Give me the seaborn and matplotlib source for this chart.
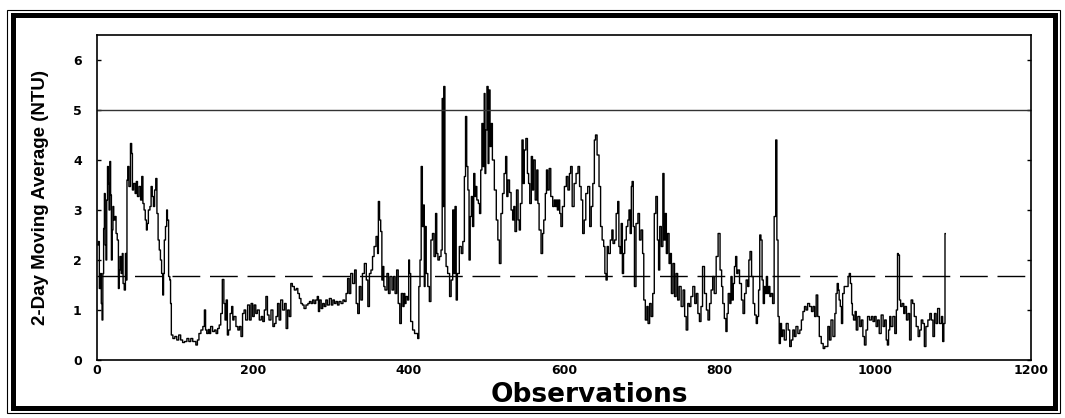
import matplotlib
matplotlib.use("Agg")
import pandas as pd
import matplotlib.pyplot as plt
import seaborn as sns
from matplotlib.patches import Rectangle

obs = [
    1, 2, 4, 5, 6, 7, 8, 9, 10, 11, 12, 13, 14, 15, 16, 17, 18, 19, 20, 21, 22, 24, 25, 27, 28, 29, 30,
    32, 33, 34, 36, 37, 38, 39, 40, 42, 44, 45, 46, 48, 50, 51, 53, 55, 57, 58, 60, 61, 63, 64, 65, 67,
    69, 70, 72, 73, 75, 76, 78, 79, 81, 82, 84, 85, 86, 87, 89, 90, 91, 93, 94, 95, 96, 99, 101, 104,
    106, 109, 111, 114, 117, 119, 122, 124,
    126, 128, 130, 132, 135, 137, 139, 140, 142, 144, 145, 147, 150, 152, 154, 156, 158, 160, 162, 164,
    165, 167, 168, 170, 172, 174, 175, 177, 180, 182, 184, 186, 188, 190, 192, 195, 197, 199, 201, 203,
    205, 207, 210, 212, 214, 216, 218, 220, 222, 225, 227, 229, 231, 233, 235, 237, 240, 242, 244, 246,
    248, 250, 252, 255, 257, 259,
    261, 263, 265, 267, 270, 272, 274, 276, 278, 280, 282, 284, 285, 287, 289, 291, 293, 295, 297, 300,
    302, 304, 306, 308, 310, 312, 315, 317, 319, 321, 323, 325, 327, 330, 332, 334, 336, 338, 340, 342,
    345, 347, 349, 351, 353, 355, 357, 360, 361, 362, 364, 365, 367, 368, 369, 371, 374, 375, 378, 380,
    382, 384, 386, 388, 390, 392, 394,
    395, 396, 398, 400, 401, 402, 404, 407, 409, 411, 413, 414, 416, 417, 419, 420, 421, 422, 424, 426,
    428, 430, 432, 434, 436, 437, 439, 441, 443, 444, 445, 446, 448, 449, 452, 454, 456, 458, 459, 461,
    462, 464, 467, 469, 471, 473, 474, 476, 477, 479, 480, 482, 483, 485, 486, 487, 489, 491, 492, 494,
    495, 497, 498, 499, 500, 502, 503, 504, 506, 507, 509, 512, 514, 516, 518, 520, 522, 524, 526, 527,
    529,
    531, 533, 535, 536, 538, 540, 542, 543, 545, 547, 548, 550, 552, 554, 555, 557, 559, 560, 562, 564,
    566, 567, 569, 572, 573, 575, 577, 578, 580, 582, 584, 587, 588, 590, 591, 592, 594, 595, 597, 599,
    602, 604, 606, 608, 609, 612, 614, 617, 619, 621, 623, 625, 627, 629, 632, 634, 636, 638, 640, 641,
    644, 646, 648, 650, 652, 653, 655, 656, 658, 661, 662, 664,
    666, 668, 670, 671, 673, 674, 676, 677, 679, 681, 683, 684, 686, 687, 688, 690, 691, 694, 696, 698,
    700, 702, 703, 706, 707, 709, 711, 713, 715, 717, 719, 721, 722, 724, 726, 728, 729, 731, 732, 734,
    736, 737, 739, 741, 743, 745, 747, 749, 752, 754, 756, 758, 760, 762, 764, 767, 769, 771, 773, 775,
    777, 779, 782, 784, 786, 788, 790, 792, 794, 797, 799,
    802, 803, 805, 807, 809, 810, 812, 814, 815, 817, 818, 820, 821, 823, 824, 827, 829, 831, 833, 835,
    837, 838, 840, 842, 844, 846, 848, 849, 851, 852, 854, 855, 857, 858, 859, 861, 862, 864, 865, 867,
    869, 871, 873, 874, 876, 877, 879, 880, 882, 884, 887, 889, 891, 893, 895, 897, 899, 902, 904, 906,
    908, 910, 912, 914, 917, 919, 921, 923, 925, 927, 929, 932, 934,
    936, 938, 940, 942, 944, 947, 949, 950, 952, 953, 954, 956, 957, 959, 961, 964, 966, 967, 969, 970,
    971, 973, 975, 976, 979, 981, 983, 985, 987, 989, 991, 994, 996, 998, 1000, 1002, 1004, 1006, 1009,
    1011, 1013, 1015, 1016, 1018, 1019, 1021, 1024, 1026, 1028, 1029, 1030, 1032, 1033, 1036, 1037,
    1039, 1041, 1043, 1045, 1047, 1049, 1051, 1054, 1056, 1058, 1060, 1062, 1064, 1066, 1069, 1071,
    1073, 1075, 1077, 1079, 1081, 1084, 1086, 1087, 1089, 1090,
]
ntu = [
    2.30, 2.37, 1.43, 1.73, 1.13, 0.80, 1.73, 2.63, 3.33, 2.30, 2.00, 3.20, 3.87, 3.53, 3.00, 3.97, 3.30,
    2.00, 2.60, 3.07, 2.80, 2.87, 2.53, 2.40, 1.43, 1.80, 2.07, 1.73, 2.13, 1.53, 1.40, 2.13, 1.60, 3.60,
    3.87, 3.47, 4.33, 4.13, 3.40, 3.53, 3.33, 3.57, 3.27, 3.47, 3.20, 3.67, 3.13, 3.00, 2.80, 2.60, 2.73,
    3.00, 3.07, 3.47, 3.27, 3.07, 3.40, 3.63, 2.93, 2.40, 2.20, 2.00, 1.73, 1.30, 1.73, 2.40, 2.67, 3.00,
    2.80, 1.67, 1.60, 1.13, 0.50, 0.43, 0.47, 0.40, 0.50, 0.40, 0.35, 0.37, 0.43, 0.37, 0.43, 0.37,
    0.37, 0.30, 0.40, 0.53, 0.60, 0.67, 1.00, 0.60, 0.53, 0.61, 0.53, 0.67, 0.57, 0.60, 0.53, 0.63, 0.70,
    0.93, 1.61, 1.13, 0.80, 1.20, 0.50, 0.60, 0.93, 1.07, 0.80, 0.87, 0.67, 0.60, 0.67, 0.47, 0.93, 1.00,
    0.80, 1.10, 0.80, 1.13, 0.87, 1.10, 0.93, 1.00, 0.80, 0.87, 0.77, 1.00, 1.27, 0.90, 0.80, 1.00, 0.67,
    0.73, 0.87, 1.13, 0.80, 1.20, 1.00, 1.13, 0.63, 1.00, 0.87, 1.53, 1.47, 1.40, 1.43, 1.33,
    1.23, 1.13, 1.10, 1.03, 1.10, 1.13, 1.17, 1.13, 1.20, 1.13, 1.20, 1.27, 0.97, 1.20, 1.03, 1.13, 1.07,
    1.20, 1.10, 1.23, 1.10, 1.20, 1.13, 1.17, 1.10, 1.17, 1.13, 1.20, 1.17, 1.33, 1.63, 1.33, 1.73, 1.53,
    1.80, 1.13, 0.93, 1.47, 1.20, 1.73, 1.93, 1.60, 1.07, 1.73, 1.80, 2.07, 2.27, 2.47, 2.13, 3.17, 2.80,
    2.57, 1.60, 1.87, 1.47, 1.40, 1.73, 1.33, 1.67, 1.40, 1.67, 1.33, 1.80, 1.13, 0.73, 1.33, 1.07,
    1.33, 1.13, 1.27, 1.20, 2.00, 1.73, 0.77, 0.60, 0.53, 0.53, 0.43, 1.47, 2.00, 3.87, 2.67, 3.10, 1.47,
    2.67, 1.73, 1.47, 1.17, 2.40, 2.53, 2.07, 2.93, 2.13, 2.00, 2.07, 2.20, 5.23, 3.07, 5.47, 2.13, 1.87,
    1.73, 1.27, 1.60, 3.00, 1.73, 3.07, 1.20, 1.73, 2.27, 2.13, 2.37, 3.67, 4.87, 3.87, 3.40, 2.00, 2.87,
    3.27, 2.67, 3.73, 3.27, 3.47, 3.20, 3.13, 2.93, 3.80, 4.73, 3.87, 5.33, 3.73, 4.60, 5.47, 3.93, 5.40,
    4.27, 4.73, 4.00, 3.40, 2.80, 2.40, 1.93, 2.93, 3.33, 3.73, 4.07, 3.27, 3.60,
    3.35, 3.00, 2.80, 3.07, 2.57, 3.40, 2.80, 2.60, 3.13, 4.40, 3.53, 4.20, 4.43, 3.73, 3.53, 3.13, 4.07,
    3.40, 4.00, 3.20, 3.80, 3.13, 2.60, 2.13, 2.53, 2.80, 3.33, 3.80, 3.40, 3.83, 3.27, 3.07, 3.20, 3.07,
    3.20, 3.00, 3.20, 2.93, 2.67, 3.07, 3.47, 3.67, 3.40, 3.73, 3.87, 3.07, 3.53, 3.73, 3.87, 3.47, 3.20,
    2.53, 2.80, 3.33, 3.47, 2.67, 3.07, 3.53, 4.40, 4.50, 4.10, 3.47, 2.67, 2.40, 2.27, 1.73, 1.60, 2.27,
    2.13, 2.40, 2.60, 2.33,
    2.40, 2.93, 3.17, 2.27, 2.13, 2.73, 1.73, 2.13, 2.40, 2.67, 2.80, 3.00, 2.53, 3.47, 3.57, 2.67, 1.47,
    2.73, 2.93, 2.40, 2.60, 2.13, 1.20, 0.80, 1.07, 0.73, 1.13, 0.87, 1.33, 2.93, 3.27, 2.40, 1.80, 2.67,
    2.27, 3.73, 2.40, 2.93, 2.13, 2.53, 1.93, 2.13, 1.33, 1.93, 1.27, 1.73, 1.20, 1.47, 1.07, 1.40, 0.87,
    0.60, 1.13, 1.07, 1.27, 1.47, 1.13, 1.33, 0.93, 0.77, 1.07, 1.87, 1.33, 1.00, 0.80, 1.13, 1.40, 1.67,
    1.33, 2.07, 2.53,
    1.80, 1.47, 1.13, 0.83, 0.57, 0.93, 1.33, 1.13, 1.67, 1.20, 1.53, 1.87, 2.07, 1.73, 1.80, 1.53, 1.20,
    0.93, 1.33, 1.60, 1.47, 2.00, 2.17, 1.67, 1.13, 0.90, 0.73, 0.87, 1.40, 2.50, 2.40, 1.60, 1.13, 1.47,
    1.33, 1.67, 1.33, 1.47, 1.27, 1.33, 1.13, 2.87, 4.40, 2.40, 0.87, 0.33, 0.73, 0.47, 0.60, 0.40, 0.73,
    0.60, 0.27, 0.40, 0.60, 0.47, 0.67, 0.53, 0.60, 0.80, 0.97, 1.07, 1.00, 1.13, 1.07, 0.97, 1.07, 0.87,
    1.30, 0.87, 0.47, 0.33, 0.23,
    0.27, 0.27, 0.67, 0.40, 0.80, 0.47, 0.93, 1.33, 1.53, 1.40, 1.20, 1.07, 0.73, 1.33, 1.47, 1.47, 1.67,
    1.73, 1.53, 1.13, 0.90, 0.80, 0.97, 0.60, 0.87, 0.67, 0.80, 0.47, 0.30, 0.60, 0.87, 0.80, 0.87, 0.77,
    0.87, 0.67, 0.80, 0.53, 0.90, 0.67, 0.80, 0.40, 0.30, 0.60, 0.87, 0.67, 0.87, 0.53, 1.00, 2.13, 2.10,
    1.20, 1.07, 1.13, 0.93, 1.07, 0.80, 0.93, 0.40, 1.20, 1.13, 0.87, 0.67, 0.47, 0.60, 0.80, 0.73, 0.27,
    0.67, 0.80, 0.93,
    0.80, 0.47, 0.93, 0.73, 1.03, 0.73, 0.87, 0.37, 0.73, 2.53,
]

upper_limit = 5.0     # solid reference line
mean_level = 1.68     # dashed reference line
x_ticks = [0, 200, 400, 600, 800, 1000, 1200]
y_ticks = [0, 1, 2, 3, 4, 5, 6]

df = pd.DataFrame({"Observations": obs, "NTU": ntu})

sns.set_style("white")
plt.rcParams["font.family"] = ["DejaVu Sans"]
plt.rcParams["text.color"] = "black"
plt.rcParams["axes.labelcolor"] = "black"

W, H = 1065, 418
fig = plt.figure(figsize=(W / 100, H / 100), dpi=100)
ax = fig.add_axes([97 / W, 1 - 360 / H, 934 / W, 325 / H])

# stepped trace, like the original instrument plot
sns.lineplot(data=df, x="Observations", y="NTU", ax=ax, color="black",
             linewidth=1.0, estimator=None, sort=False, drawstyle="steps-mid")
ax.axhline(upper_limit, color="#333333", linewidth=1.0)
ax.axhline(mean_level, color="black", linewidth=1.0, dashes=(20, 7))

ax.set_xlim(0, 1200)
ax.set_ylim(0, 6.5)
ax.set_xticks(x_ticks)
ax.set_xticklabels([str(t) for t in x_ticks], fontweight="bold", fontsize=9)
ax.set_yticks(y_ticks)
ax.set_yticklabels([str(t) for t in y_ticks], fontweight="bold", fontsize=9)
ax.tick_params(axis="x", direction="in", length=3, width=1, pad=3, colors="black")
ax.tick_params(axis="y", direction="in", length=3, width=1, pad=11, colors="black",
               right=True, left=True)
for s in ax.spines.values():
    s.set_color("black")
    s.set_linewidth(1.2)

ax.set_xlabel("Observations", fontsize=19, fontweight="bold", color="black")
ax.xaxis.label.set_va("center")
ax.xaxis.set_label_coords(0.527, -0.108)
ax.set_ylabel("2-Day Moving Average (NTU)", fontsize=13.5, fontweight="bold",
              family="Liberation Sans", color="black")
ax.yaxis.label.set_va("center")
ax.yaxis.set_label_coords(-0.061, 0.5)

# double frame round the whole picture
fig.patches.append(Rectangle((7 / W, 1 - 413 / H), (1060 - 7) / W, (413 - 10) / H,
                             transform=fig.transFigure, fill=False, ec="black", lw=0.8))
fig.patches.append(Rectangle((12.5 / W, 1 - 408 / H), (1055 - 12.5) / W, (408 - 15) / H,
                             transform=fig.transFigure, fill=False, ec="black", lw=3.6))

fig.savefig("out.png", dpi=100)
